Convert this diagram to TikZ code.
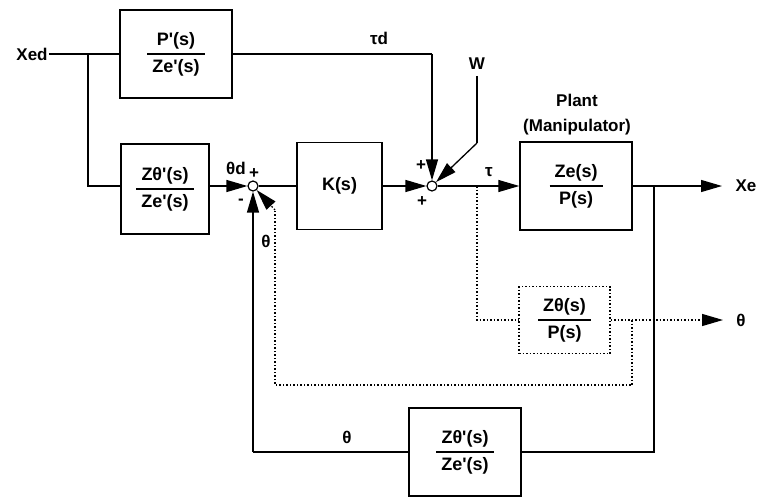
\documentclass[tikz,border=0pt]{standalone}
\usepackage{fontspec}
\setmainfont[Ligatures=TeXOff]{Liberation Sans}
\usetikzlibrary{arrows.meta}
\newcommand{\myfrac}[2]{\setlength{\arrayrulewidth}{1.5pt}\renewcommand{\arraystretch}{1.25}\begin{tabular}{@{\hspace{5pt}}c@{\hspace{5pt}}}#1\\\hline #2\end{tabular}}
\begin{document}
\begin{tikzpicture}[x=1pt,y=-1pt,
  lbl/.style={font=\fontsize{17}{19}\bfseries\selectfont, inner sep=1pt},
  blk/.style={draw, line width=1.4pt, inner sep=0pt, font=\fontsize{18}{20}\bfseries\selectfont},
  dbox/.style={blk, line width=1.3pt, dash pattern=on 1.5pt off 2pt},
  sig/.style={line width=1.3pt},
  arr/.style={sig, -{Triangle[length=21pt,width=12pt]}},
  dotl/.style={line width=1.3pt, dash pattern=on 1.5pt off 2pt},
  darr/.style={dotl, -{Triangle[length=21pt,width=12pt]}},
  sumj/.style={circle, draw, line width=1.2pt, minimum size=10pt, inner sep=0pt}]
\useasboundingbox (0,0) rectangle (759,500);
% nodes
\node[lbl] (xed) at (32,54) {Xed};
\coordinate (b0) at (88,54);
\node[blk, minimum width=112pt, minimum height=88pt] (g1) at (176,54) {\myfrac{P'(s)}{Ze'(s)}};
\node[blk, minimum width=88pt, minimum height=90pt] (g2) at (165,189) {\myfrac{Zθ'(s)}{Ze'(s)}};
\node[sumj] (s1) at (253,186) {};
\node[blk, minimum width=85pt, minimum height=87pt] (k) at (339.5,186) {K(s)};
\node[sumj] (s2) at (432,186) {};
\node[blk, minimum width=112pt, minimum height=88pt] (plant) at (576,186) {\myfrac{Ze(s)}{P(s)}};
\coordinate (bx) at (654,186);
\coordinate (xe) at (722,186);
\node[lbl] (xel) at (746,186) {Xe};
\coordinate (td) at (432,54);
\node[lbl] (tdl) at (379,38) {τd};
\node[lbl] (wl) at (477,64) {W};
\coordinate (w1) at (477,76);
\coordinate (w2) at (477,143);
\node[lbl] (pl1) at (577,100) {Plant};
\node[lbl] (pl2) at (577,127) {(Manipulator)};
\node[lbl] (taul) at (489,172) {τ};
\node[dbox, minimum width=91pt, minimum height=67pt] (g3) at (564.5,320) {\myfrac{Zθ(s)}{P(s)}};
\coordinate (tap) at (477,186);
\coordinate (tap2) at (477,320);
\coordinate (thout) at (723,320);
\node[lbl] (thl) at (741,320) {θ};
\coordinate (d1) at (632,320);
\coordinate (d2) at (632,385);
\coordinate (d3) at (275,385);
\coordinate (d4) at (275,210);
\node[blk, minimum width=112pt, minimum height=88pt] (g4) at (465,452) {\myfrac{Zθ'(s)}{Ze'(s)}};
\coordinate (f1) at (654,452);
\coordinate (f2) at (253,452);
% labels
\node[lbl] (thd) at (236,168) {θd};
\node[lbl] (p1) at (254,174) {+};
\node[lbl] (m1) at (241,202) {-};
\node[lbl] (p2) at (421,166) {+};
\node[lbl] (p3) at (422,202) {+};
\node[lbl] (thf) at (266,241) {θ};
\node[lbl] (thb) at (347,437) {θ};
% connectors
\draw[sig] (xed.east) -- (g1.west);
\draw[sig] (b0) -- (b0 |- s1) -- (g2.west |- s1);
\draw[arr] (g2.east |- s1) -- (s1);
\draw[sig] (s1.east) -- (k.west);
\draw[arr] (k.east) -- (s2);
\draw[sig] (g1.east) -- (td);
\draw[arr] (td) -- (s2);
\draw[sig] (w1) -- (w2);
\draw[arr] (w2) -- (s2);
\draw[arr] (s2) -- (plant.west);
\draw[arr] (plant.east) -- (xe);
\draw[sig] (bx) -- (f1) -- (g4.east);
\draw[sig] (g4.west) -- (f2);
\draw[arr] (f2) -- (s1);
\draw[dotl] (tap) -- (tap2) -- (g3.west);
\draw[darr] (g3.east) -- (thout);
\draw[dotl] (d1) -- (d2) -- (d3) -- (d4);
\draw[darr] (d4) -- (s1);
\end{tikzpicture}
\end{document}
